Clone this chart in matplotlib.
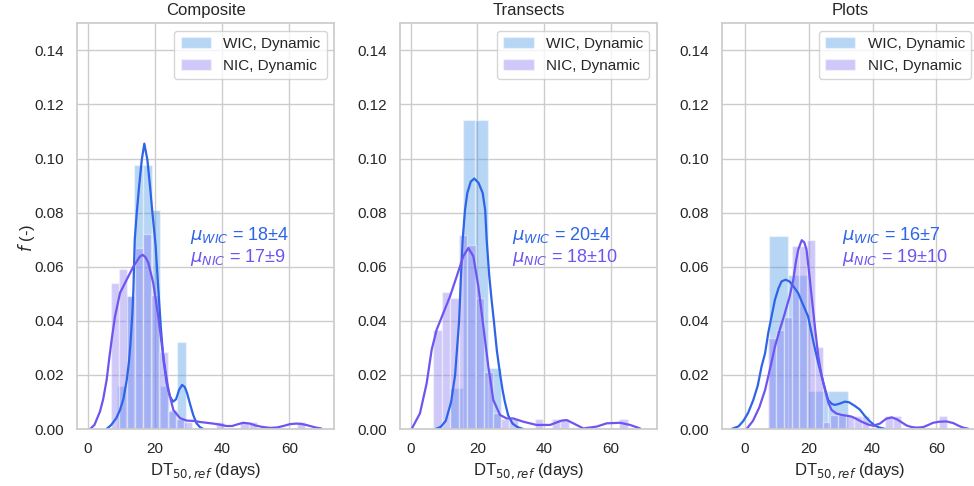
import numpy as np
import matplotlib
matplotlib.use("Agg")
import matplotlib.pyplot as plt
import seaborn as sns

# ---------------- data ----------------
panel_titles = ["Composite", "Transects", "Plots"]
series_labels = ["WIC, Dynamic", "NIC, Dynamic"]
mu_wic_text = ["18\u00b14", "20\u00b14", "16\u00b17"]
mu_nic_text = ["17\u00b19", "18\u00b110", "19\u00b110"]
x_ticks = [0, 20, 40, 60]
y_ticks = [0.00, 0.02, 0.04, 0.06, 0.08, 0.10, 0.12, 0.14]

# Composite
comp_wic_edges = [8.8, 11.35, 13.9, 16.45, 19.0, 21.55, 24.1, 26.65, 29.2]
comp_wic_dens = [0.016, 0.049, 0.0975, 0.0975, 0.081, 0.016, 0.007, 0.032]
comp_nic_edges = [6.9, 9.31, 11.72, 14.13, 16.54, 18.95, 21.36, 23.77, 26.18, 28.59,
                  31.0, 33.41, 35.82, 38.23, 40.64, 43.05, 45.46, 47.87, 50.28, 52.69,
                  55.1, 57.51, 59.92, 62.33, 64.74]
comp_nic_dens = [0.054, 0.059, 0.049, 0.067, 0.072, 0.0496, 0.0286, 0.0068, 0.0036, 0.0027,
                 0, 0, 0, 0.0027, 0, 0, 0.0027, 0.0027, 0, 0,
                 0, 0, 0, 0.0027]
comp_wic_kde_x = [5.6, 7.0, 8.5, 9.6, 10.6, 11.6, 12.3, 12.8, 13.3, 13.6, 14.0, 14.6, 15.3,
                  16.1, 16.85, 17.75, 18.55, 19.25, 20.2, 21.0, 21.8, 22.6, 23.5, 24.5, 25.4,
                  26.3, 27.2, 28.1, 28.9, 29.6, 30.4, 31.4, 32.4, 33.4, 34.4]
comp_wic_kde_y = [0.0, 0.0015, 0.004, 0.007, 0.011, 0.018, 0.025, 0.033, 0.043, 0.0515, 0.070,
                  0.080, 0.0897, 0.0996, 0.1055, 0.0996, 0.0897, 0.080, 0.068, 0.052, 0.037,
                  0.025, 0.017, 0.012, 0.0101, 0.011, 0.0145, 0.0163, 0.0155, 0.0132, 0.0095,
                  0.0052, 0.0021, 0.0007, 0.0]
comp_nic_kde_x = [0.7, 2.0, 3.66, 4.6, 5.64, 6.4, 7.13, 8.12, 9.61, 11.6, 13.6, 15.56, 16.36,
                  17.2, 18.05, 19.5, 21.0, 22.5, 24.0, 25.5, 27.5, 29.5, 31.4, 33.4, 35.4,
                  37.4, 39.4, 41.3, 43.0, 44.5, 46.3, 48.3, 50.0, 51.8, 54.3, 56.5, 58.5,
                  60.2, 62.0, 63.5, 65.0, 66.5, 68.0, 69.5]
comp_nic_kde_y = [0.0, 0.0015, 0.0065, 0.011, 0.0182, 0.026, 0.033, 0.0416, 0.0503, 0.0552,
                  0.0601, 0.0638, 0.0644, 0.0635, 0.0614, 0.054, 0.0416, 0.0268, 0.0145,
                  0.0070, 0.0040, 0.0031, 0.003, 0.0026, 0.0023, 0.002, 0.0016, 0.0011,
                  0.0011, 0.0017, 0.0023, 0.002, 0.0013, 0.0008, 0.0004, 0.0006, 0.0012,
                  0.0018, 0.002, 0.0019, 0.0015, 0.001, 0.0005, 0.0002]

# Transects
tran_wic_edges = [11.8, 15.6, 19.4, 23.2, 27.0]
tran_wic_dens = [0.015, 0.1142, 0.1142, 0.0225]
tran_nic_edges = [6.8, 9.33, 11.86, 14.39, 16.92, 19.45, 21.98, 24.51, 27.04, 29.57, 32.1,
                  34.63, 37.16, 39.69, 42.22, 44.75, 47.28, 49.81, 52.34, 54.87, 57.4,
                  59.93, 62.46, 64.99]
tran_nic_dens = [0.0367, 0.0505, 0.0484, 0.0719, 0.0679, 0.0484, 0.0212, 0.0058, 0.0036,
                 0.0036, 0, 0, 0.0036, 0, 0.0036, 0.0036, 0, 0, 0, 0, 0, 0, 0.0036]
tran_wic_kde_x = [7.5, 9.0, 10.5, 12.1, 13.3, 14.5, 15.0, 15.57, 16.26, 16.96, 18.0, 19.05,
                  20.3, 21.55, 22.3, 22.75, 23.5, 24.2, 24.9, 25.8, 26.8, 27.5, 28.2, 29.2,
                  30.5, 32.0, 33.7]
tran_wic_kde_y = [0.0, 0.0008, 0.003, 0.01, 0.02, 0.04, 0.055, 0.07, 0.081, 0.0873, 0.0915,
                  0.0926, 0.091, 0.0873, 0.081, 0.07, 0.057, 0.048, 0.04, 0.029, 0.02,
                  0.0145, 0.01, 0.005, 0.002, 0.0007, 0.0]
tran_nic_kde_x = [0.28, 2.78, 4.78, 6.28, 7.77, 9.78, 11.77, 13.77, 15.76, 17.26, 18.75,
                  20.25, 21.75, 23.25, 24.74, 26.74, 28.73, 30.72, 33.7, 37.7, 41.7, 45.2,
                  46.7, 48.7, 51.7, 55.7, 58.7, 62.7, 65.7, 68.7]
tran_nic_kde_y = [0.0, 0.0058, 0.0169, 0.0293, 0.0367, 0.0429, 0.0490, 0.0564, 0.0639,
                  0.0669, 0.0639, 0.0528, 0.038, 0.0231, 0.0107, 0.0052, 0.0039, 0.0039,
                  0.0027, 0.0015, 0.0015, 0.0031, 0.0033, 0.0021, 0.0002, 0.0009, 0.0021,
                  0.0023, 0.0015, 0.0002]

# Plots
plot_wic_edges = [7.4, 13.6, 19.8, 26.0, 32.2]
plot_wic_dens = [0.0715, 0.057, 0.014, 0.014]
plot_nic_edges = [7.3, 9.74, 12.18, 14.62, 17.06, 19.5, 21.94, 24.38, 26.82, 29.26, 31.7,
                  34.14, 36.58, 39.02, 41.46, 43.9, 46.34, 48.78, 51.22, 53.66, 56.1, 58.54,
                  60.98, 63.42]
plot_nic_dens = [0.0336, 0.0367, 0.0415, 0.0675, 0.0675, 0.070, 0.0305, 0.0026, 0.0052,
                 0.0052, 0.0048, 0.0048, 0.0048, 0, 0, 0.0048, 0.0048, 0, 0, 0, 0, 0, 0.0048]
plot_wic_kde_x = [-4.2, -2.0, -0.5, 1.0, 2.6, 4.0, 5.2, 6.3, 7.3, 8.4, 9.4, 10.5, 11.5, 12.8,
                  14.0, 15.15, 16.7, 18.2, 19.8, 21.4, 23.0, 24.6, 26.1, 27.2, 28.2, 29.5,
                  31.3, 32.6, 34.5, 36.0, 37.6, 39.2, 40.8, 42.3, 44.0]
plot_wic_kde_y = [0.0, 0.001, 0.003, 0.006, 0.0107, 0.016, 0.0231, 0.028, 0.0355, 0.042,
                  0.0478, 0.052, 0.0546, 0.0552, 0.0545, 0.0528, 0.0502, 0.046, 0.0416,
                  0.0325, 0.0243, 0.017, 0.0107, 0.0093, 0.0089, 0.0093, 0.0101, 0.0099,
                  0.0085, 0.0072, 0.0048, 0.0028, 0.0012, 0.0005, 0.0]
plot_nic_kde_x = [0.5, 2.5, 4.5, 6.3, 8.0, 9.4, 11.0, 12.5, 14.0, 15.15, 16.0, 16.7, 17.8,
                  18.6, 19.3, 20.1, 20.9, 22.0, 23.0, 24.0, 25.1, 26.2, 27.2, 28.7, 30.3,
                  32.0, 33.4, 35.0, 36.6, 38.5, 40.2, 42.3, 44.3, 46.0, 47.6, 49.1, 50.7,
                  52.3, 54.0, 55.9, 57.5, 59.0, 61.0, 63.2, 65.3, 67.0, 68.4, 70.0]
plot_nic_kde_y = [0.0, 0.003, 0.008, 0.0144, 0.023, 0.0305, 0.037, 0.0428, 0.049, 0.0552,
                  0.062, 0.0663, 0.0698, 0.069, 0.0663, 0.058, 0.049, 0.037, 0.0268, 0.02,
                  0.0144, 0.0095, 0.007, 0.0057, 0.0052, 0.0049, 0.0046, 0.0037, 0.0027,
                  0.0017, 0.0012, 0.002, 0.0038, 0.0043, 0.0036, 0.0025, 0.0013, 0.0007,
                  0.0005, 0.0007, 0.0015, 0.0023, 0.0027, 0.0028, 0.0022, 0.0012, 0.0005,
                  0.0001]

# ---------------- style ----------------
sns.set_theme(style="whitegrid")
plt.rcParams["font.family"] = ["Liberation Sans", "DejaVu Sans"]

wic_hist_color = "#4b98e6"
nic_hist_color = "#877af2"
wic_line_color = "#2e64e8"
nic_line_color = "#6e55f0"

fig = plt.figure(figsize=(9.74, 4.86), dpi=100)
ax_lefts = [77.3 / 974, 400.0 / 974, 721.7 / 974]
ax_w = 257.0 / 974
ax_b = 57.0 / 486
ax_h = 405.7 / 486
xlims = [(-3.1, 73.4), (-3.2, 73.75), (-7.3, 73.3)]

panels = [
    (comp_wic_edges, comp_wic_dens, comp_nic_edges, comp_nic_dens,
     comp_wic_kde_x, comp_wic_kde_y, comp_nic_kde_x, comp_nic_kde_y),
    (tran_wic_edges, tran_wic_dens, tran_nic_edges, tran_nic_dens,
     tran_wic_kde_x, tran_wic_kde_y, tran_nic_kde_x, tran_nic_kde_y),
    (plot_wic_edges, plot_wic_dens, plot_nic_edges, plot_nic_dens,
     plot_wic_kde_x, plot_wic_kde_y, plot_nic_kde_x, plot_nic_kde_y),
]

for i, (we, wd, ne, nd, wkx, wky, nkx, nky) in enumerate(panels):
    ax = fig.add_axes([ax_lefts[i], ax_b, ax_w, ax_h])
    we = np.asarray(we); ne = np.asarray(ne)
    ax.bar(we[:-1], wd, width=np.diff(we), align="edge", color=wic_hist_color,
           alpha=0.4, edgecolor="white", linewidth=1.0, label=series_labels[0])
    ax.plot(np.asarray(wkx), np.asarray(wky), color=wic_line_color, lw=1.6)
    ax.bar(ne[:-1], nd, width=np.diff(ne), align="edge", color=nic_hist_color,
           alpha=0.4, edgecolor="white", linewidth=1.0, label=series_labels[1])
    ax.plot(np.asarray(nkx), np.asarray(nky), color=nic_line_color, lw=1.6)

    ax.set_xlim(*xlims[i])
    ax.set_ylim(0, 0.15)
    ax.set_xticks(x_ticks)
    ax.set_yticks(y_ticks)
    ax.set_yticklabels([f"{v:.2f}" for v in y_ticks])
    ax.tick_params(labelsize=11, colors=".15")
    ax.set_title(panel_titles[i], fontsize=12, color=".15")
    ax.set_xlabel(r"DT$_{50,ref}$ (days)", fontsize=12, color=".15")
    if i == 0:
        ax.set_ylabel(r"$f$ (-)", fontsize=12, color=".15")
        ax.yaxis.set_label_coords(-0.158, 0.47)
    ax.legend(loc="upper right", fontsize=11)
    ax.text(30.3, 0.0715, r"$\mu_{WIC}$ = " + mu_wic_text[i], color=wic_line_color,
            fontsize=13, va="center", ha="left")
    ax.text(30.3, 0.0635, r"$\mu_{NIC}$ = " + mu_nic_text[i], color=nic_line_color,
            fontsize=13, va="center", ha="left")

fig.savefig("out.png", dpi=100)
